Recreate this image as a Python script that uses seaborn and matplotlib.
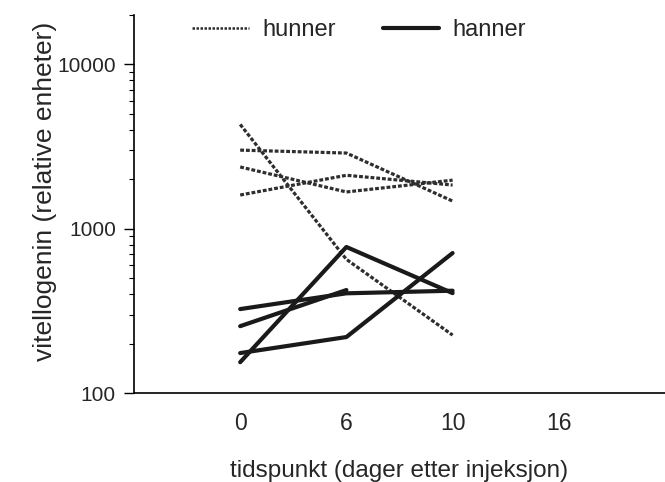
"""
Vitellogenin i plasma etter injeksjon - hunner og hanner
"""

import pandas as pd
import numpy as np
import matplotlib
matplotlib.use("Agg")
import matplotlib.pyplot as plt
from matplotlib.lines import Line2D
from matplotlib.ticker import LogLocator, NullFormatter, FixedLocator, FixedFormatter
import seaborn as sns

sns.set_theme(style="white")
plt.rcParams["font.family"] = ["Liberation Sans", "DejaVu Sans"]

# ============================================================
# DATA
# ============================================================
days = ["0", "6", "10", "16"]

# hunner (females), values at day 0, 6, 10
hunn_1 = [4300, 650, 225]
hunn_2 = [3000, 2880, 1470]
hunn_3 = [2370, 1670, 1970]
hunn_4 = [1600, 2110, 1840]

# hanner (males)
hann_1 = [154, 773, 405]
hann_2 = [175, 219, 710]
hann_3 = [324, 404, 419]
hann_4 = [255, 423]          # only day 0 and 6

groups = {
    "hunner": [hunn_1, hunn_2, hunn_3, hunn_4],
    "hanner": [hann_1, hann_2, hann_3, hann_4],
}

rows = []
for sex, series in groups.items():
    for i, vals in enumerate(series):
        for pos, v in enumerate(vals):
            rows.append({"sex": sex, "id": f"{sex}_{i}", "pos": pos, "value": v})
df = pd.DataFrame(rows)

# ============================================================
# PLOT
# ============================================================
fig = plt.figure(figsize=(6.65, 4.82), dpi=100)
ax = fig.add_axes([0.2015, 0.1846, 0.7985, 0.785])

sns.lineplot(data=df, x="pos", y="value", units="id", estimator=None,
             hue="sex", palette={"hunner": "#2e2e2e", "hanner": "#1a1a1a"},
             style="sex", dashes={"hunner": (1.2, 0.6), "hanner": ""},
             size="sex", sizes={"hunner": 2.3, "hanner": 3.0},
             legend=False, ax=ax)

ax.set_yscale("log")
ax.set_ylim(100, 20000)
ax.set_xlim(-1, 4)

ax.yaxis.set_major_locator(FixedLocator([100, 1000, 10000]))
ax.yaxis.set_major_formatter(FixedFormatter(["100", "1000", "10000"]))
ax.yaxis.set_minor_locator(LogLocator(base=10, subs=np.arange(2, 10)))
ax.yaxis.set_minor_formatter(NullFormatter())

ax.set_xticks(range(len(days)))
ax.set_xticklabels(days)

ax.tick_params(axis="y", which="major", direction="out", length=7, width=1,
               labelsize=15, pad=6, left=True, color="black")
ax.tick_params(axis="y", which="minor", direction="out", length=3.5, width=0.8,
               left=True, color="black")
ax.tick_params(axis="x", length=0, labelsize=16.5, pad=14)

for side in ["top", "right"]:
    ax.spines[side].set_visible(False)
for side in ["left", "bottom"]:
    ax.spines[side].set_color("black")
    ax.spines[side].set_linewidth(1.2)

ax.set_ylabel("vitellogenin (relative enheter)", fontsize=19)
ax.yaxis.set_label_coords(-0.145, 0.534)
ax.set_xlabel("tidspunkt (dager etter injeksjon)", fontsize=17.5, labelpad=18)

handles = [
    Line2D([], [], color="#2e2e2e", lw=1.8, dashes=(1.0, 0.6)),
    Line2D([], [], color="#1a1a1a", lw=3.0),
]
ax.legend(handles, ["hunner", "hanner"], loc="upper center",
          bbox_to_anchor=(0.424, 1.045), ncol=2, frameon=False,
          handlelength=2.4, handletextpad=0.55, columnspacing=2.0,
          fontsize=17)

fig.savefig("out.png", dpi=100)
plt.close(fig)
